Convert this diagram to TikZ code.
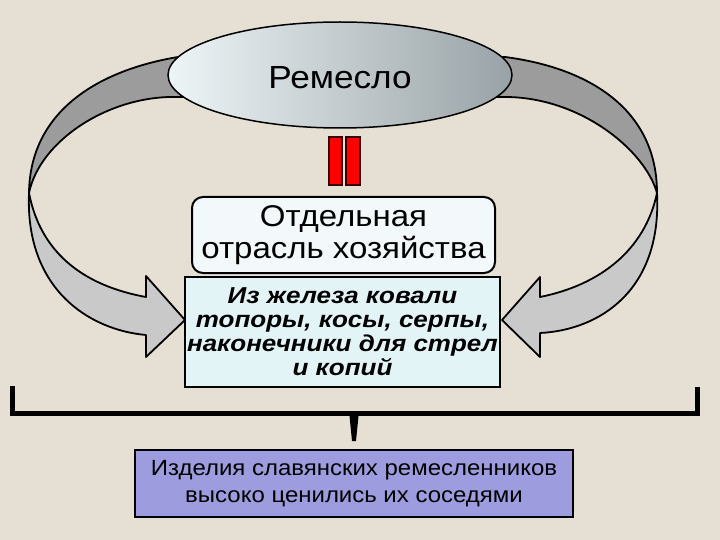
\documentclass[tikz,border=0pt]{standalone}
\usepackage{fontspec}
\setmainfont{Liberation Sans}
\newfontfamily\widea[FakeStretch=1.10]{Liberation Sans}
\newfontfamily\wideb[FakeStretch=1.13]{Liberation Sans}
\newfontfamily\widec[FakeStretch=1.09]{Liberation Sans}
\usetikzlibrary{shapes.geometric}
\definecolor{bg}{HTML}{E6E0D4}
\definecolor{ribdark}{HTML}{9C9C9C}
\definecolor{riblight}{HTML}{C9C9C9}
\definecolor{ellL}{HTML}{EEF5F7}
\definecolor{ellR}{HTML}{99A2A6}
\definecolor{boxwhite}{HTML}{F3F8FA}
\definecolor{boxcyan}{HTML}{E3F4F6}
\definecolor{boxpurple}{HTML}{9C9CDE}
\definecolor{bardark}{HTML}{3A0000}
\tikzset{
  ribbon/.style={draw=black, line width=1.8pt, line join=round},
  bigbox/.style={draw=black, line width=2pt, align=center, inner sep=0pt},
  redbar/.style={fill=red, draw=bardark, line width=1.5pt},
}
\begin{document}
\begin{tikzpicture}[x=1pt,y=-1pt]
\fill[bg] (0,0) rectangle (720,540);
\useasboundingbox (0,0) rectangle (720,540);
% left ribbon, upper dark part
\filldraw[ribbon, fill=ribdark] (200,57) -- (178,57) .. controls (100,70) and (30,110) .. (29,193)
   .. controls (40,140) and (110,95) .. (178,97) -- (200,97);
% left ribbon, lower light part with head
\filldraw[ribbon, fill=riblight] (29,193) .. controls (25,290) and (90,330) .. (146,335)
   -- (146,357) -- (185,320) -- (146,276) -- (146,297)
   .. controls (80,285) and (40,250) .. (29,193) -- cycle;
% right ribbon, upper dark part
\filldraw[ribbon, fill=ribdark] (485,57) -- (505,57) .. controls (590,68) and (657,110) .. (657,193)
   .. controls (645,150) and (580,97) .. (505,97) -- (485,97);
% right ribbon, lower light part with head
\filldraw[ribbon, fill=riblight] (657,193) .. controls (662,290) and (600,330) .. (540,333)
   -- (540,357) -- (502,320) -- (540,277) -- (540,297)
   .. controls (600,285) and (645,250) .. (657,193) -- cycle;
% ellipse
\node[ellipse, draw=black, line width=1.5pt, minimum width=344pt, minimum height=106pt,
      left color=ellL, right color=ellR] (craft) at (340,75) {};
\node[font=\widea\fontsize{32}{36}\selectfont, inner sep=0pt] (craftlabel) at (340,78) {Ремесло};
% equals bars
\filldraw[redbar] (329,137) rectangle (342,185);
\filldraw[redbar] (346,137) rectangle (360,185);
% separate branch box
\node[bigbox, rounded corners=11pt, fill=boxwhite, minimum width=303pt, minimum height=76pt,
      font=\widea\fontsize{30}{32}\selectfont] (branch) at (343.5,235) {Отдельная\\отрасль хозяйства};
% iron box
\node[bigbox, fill=boxcyan, minimum width=315pt, minimum height=110pt,
      font=\wideb\fontsize{23}{24}\selectfont\bfseries\itshape] (iron) at (342.5,332)
      {Из железа ковали\\топоры, косы, серпы,\\наконечники для стрел\\и копий};
% brace
\coordinate (bl) at (12,386);
\coordinate (br) at (697,387);
\draw[line width=5pt, line join=miter] (bl) -- (12,413) -- (697,413) -- (br);
\fill[black] (349,411) -- (359,411) -- (356,441) -- (352,441) -- cycle;
% result box
\node[bigbox, fill=boxpurple, minimum width=438pt, minimum height=67pt,
      font=\widec\fontsize{22}{27}\selectfont] (result) at (354,483.5)
      {Изделия славянских ремесленников\\высоко ценились их соседями};
\end{tikzpicture}
\end{document}
